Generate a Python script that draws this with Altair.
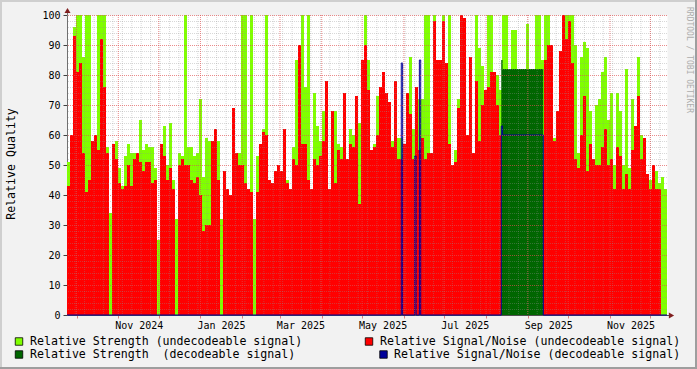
import altair as alt
import pandas as pd

FONT = "DejaVu Sans Mono"

# time base of the consolidated columns
START = pd.Timestamp("2024-09-23 22:00")
BIN = pd.Timedelta(minutes=3207)
NBINS = 200
END = START + NBINS * BIN

# Relative Strength (undecodeable signal)
strength_undecodeable = [
    51, 47, 96, 100, 100, 86, 100, 100, 58, 60,
    100, 100, 100, 56, 34, 42, 58, 49, 43, 53,
    57, 54, 54, 54, 65, 55, 57, 56, 56, 49,
    25, 57, 63, 50, 64, 45, 32, 54, 53, 100,
    56, 56, 53, 54, 72, 46, 59, 58, 34, 58,
    58, 32, 34, 34, 33, 59, 50, 54, 100, 100,
    35, 100, 32, 53, 53, 62, 100, 30, 30, 48,
    48, 32, 58, 45, 30, 56, 85, 56, 100, 76,
    100, 32, 74, 63, 58, 68, 54, 34, 68, 68,
    57, 56, 56, 51, 62, 60, 73, 64, 82, 100,
    85, 50, 57, 73, 57, 48, 53, 50, 58, 58,
    59, 59, 53, 56, 86, 62, 62, 72, 72, 100,
    100, 44, 100, 63, 60, 100, 72, 100, 48, 55,
    72, 100, 90, 55, 48, 54, 100, 89, 83, 41,
    100, 100, 73, 80, 75, 100, 100, 82, 95, 95,
    82, 82, 82, 97, 82, 82, 100, 100, 85, 100,
    100, 77, 59, 61, 72, 98, 100, 100, 100, 90,
    54, 86, 91, 89, 68, 42, 70, 72, 81, 86,
    65, 74, 50, 74, 68, 50, 82, 49, 72, 55,
    86, 60, 49, 47, 45, 49, 48, 44, 46, 42,
]

# Relative Signal/Noise (undecodeable signal)
snr_undecodeable = [
    43, 60, 93, 81, 84, 54, 41, 45, 58, 60,
    55, 92, 76, 54, 0, 57, 52, 44, 42, 43,
    50, 43, 52, 54, 51, 48, 51, 51, 44, 45,
    0, 57, 53, 45, 49, 42, 0, 50, 52, 50,
    50, 45, 44, 46, 40, 28, 30, 30, 58, 62,
    45, 0, 48, 42, 40, 69, 54, 50, 50, 44,
    42, 41, 0, 41, 57, 61, 60, 45, 44, 48,
    50, 48, 62, 44, 42, 52, 50, 90, 57, 57,
    45, 42, 52, 50, 53, 58, 78, 42, 68, 44,
    55, 52, 74, 52, 57, 56, 73, 37, 85, 90,
    75, 55, 56, 60, 76, 81, 74, 71, 56, 78,
    52, 52, 57, 74, 67, 52, 76, 55, 59, 52,
    54, 54, 98, 85, 85, 98, 84, 57, 50, 51,
    69, 100, 99, 60, 86, 54, 78, 58, 70, 75,
    76, 81, 81, 70, 60, 0, 0, 0, 0, 0,
    0, 0, 0, 0, 0, 0, 0, 0, 48, 85,
    90, 90, 58, 68, 88, 100, 92, 98, 84, 52,
    49, 60, 73, 48, 57, 52, 50, 50, 56, 62,
    50, 52, 42, 56, 53, 42, 47, 42, 55, 63,
    73, 52, 59, 47, 42, 50, 42, 42, 0, 0,
]

# Relative Strength (decodeable signal): change points
strength_dec_times = ["2025-08-12 07:00", "2025-08-13 07:00", "2025-09-12 12:00"]
strength_dec_values = [85, 82, 0]

# Relative Signal/Noise (decodeable signal): change points
snr_dec_times = [
    "2024-09-23 22:00", "2025-05-30 02:00", "2025-05-31 02:00",
    "2025-06-09 02:00", "2025-06-10 02:00", "2025-06-12 12:00",
    "2025-06-13 12:00", "2025-08-12 07:00", "2025-08-13 07:00",
    "2025-09-12 12:00", "2025-12-13 08:00",
]
snr_dec_values = [0, 84, 0, 53, 0, 85, 0, 63, 60, 0, 0]


def iso(ts):
    return pd.Timestamp(ts).strftime("%Y-%m-%dT%H:%M:%S")


def dt(ts):
    ts = pd.Timestamp(ts)
    return alt.DateTime(year=ts.year, month=ts.month, date=ts.day,
                        hours=ts.hour, minutes=ts.minute)


main = pd.DataFrame({
    "t": [iso(START + i * BIN) for i in range(NBINS + 1)],
    "strength": strength_undecodeable + [strength_undecodeable[-1]],
    "snr": snr_undecodeable + [snr_undecodeable[-1]],
})
dg = pd.DataFrame({"t": [iso(t) for t in strength_dec_times], "v": strength_dec_values})
bl = pd.DataFrame({"t": [iso(t) for t in snr_dec_times], "v": snr_dec_values})

month_starts = list(pd.date_range("2024-10-01", "2025-12-01", freq="MS"))
mondays = list(pd.date_range("2024-09-30", "2025-12-08", freq="W-MON"))
major_y = list(range(10, 101, 10))
minor_y = [v for v in range(2, 100, 2) if v % 10 != 0]

xscale = alt.Scale(domain=[dt(START), dt(END)], nice=False)
yscale = alt.Scale(domain=[0, 100], nice=False, zero=True)

xaxis = alt.Axis(
    values=[dt(m) for m in month_starts], grid=False, domain=True,
    domainColor="#505050", domainWidth=1, ticks=True, tickColor="#D98080",
    tickSize=3, labelPadding=2, labelOffset=20.5,
    labelExpr="month(datum.value) % 2 == 0 ? timeFormat(datum.value, '%b %Y') : ''",
    labelFont=FONT, labelFontSize=10, labelColor="#000000",
    labelOverlap=False, labelFlush=False, title=None,
)
yaxis = alt.Axis(
    values=list(range(0, 101, 10)), grid=False, domain=True,
    domainColor="#707070", domainWidth=1, ticks=True, tickColor="#404040",
    tickSize=4, labelPadding=3, labelFont=FONT, labelFontSize=10,
    labelColor="#000000", title=None,
)


def X(field):
    return alt.X(field, type="temporal", scale=xscale, axis=xaxis, title=None)


def Y(field):
    return alt.Y(field, type="quantitative", scale=yscale, axis=yaxis, title=None)


lime = alt.Chart(main).mark_area(interpolate="step-after", color="#80FF00").encode(
    x=X("t"), y=Y("strength"))
red = alt.Chart(main).mark_area(interpolate="step-after", color="#FF0000").encode(
    x=X("t"), y=Y("snr"))
dgreen = alt.Chart(dg).mark_area(interpolate="step-after", color="#006600").encode(
    x=X("t"), y=Y("v"))
blue = alt.Chart(bl).mark_line(interpolate="step-after", color="#000099", strokeWidth=1).encode(
    x=X("t"), y=Y("v"))

grid_minor_y = alt.Chart(pd.DataFrame({"v": minor_y})).mark_rule(
    color="#8F8F8F", opacity=0.35, strokeDash=[1, 1], yOffset=0.5
).encode(y=Y("v"))
grid_minor_x = alt.Chart(pd.DataFrame({"t": [iso(m) for m in mondays]})).mark_rule(
    color="#8F8F8F", opacity=0.35, strokeDash=[1, 1]
).encode(x=X("t"))
grid_major_y = alt.Chart(pd.DataFrame({"v": major_y})).mark_rule(
    color="#DE4F4F", opacity=0.65, strokeDash=[1, 1], yOffset=0.5
).encode(y=Y("v"))
grid_major_x = alt.Chart(pd.DataFrame({"t": [iso(m) for m in month_starts]})).mark_rule(
    color="#DE4F4F", opacity=0.65, strokeDash=[1, 1]
).encode(x=X("t"))

one = pd.DataFrame({"k": [0]})


def rule(x, x2, y, y2, color, w=1):
    return alt.Chart(one).mark_rule(color=color, strokeWidth=w).encode(
        x=alt.value(x), x2=alt.value(x2), y=alt.value(y), y2=alt.value(y2))


def text(s, x, y, size, color="#000000", angle=None, align="left"):
    kw = dict(font=FONT, fontSize=size, color=color, align=align, baseline="middle")
    if angle is not None:
        kw["angle"] = angle
    return alt.Chart(one).mark_text(**kw).encode(
        x=alt.value(x), y=alt.value(y), text=alt.value(s))


def square(x, y, color):
    return alt.Chart(one).mark_square(size=56, color=color, opacity=1,
                                      stroke="#000000", strokeWidth=0.8).encode(
        x=alt.value(x), y=alt.value(y))


extras = [
    # frame shading
    rule(-67, 630, -14, -14, "#CFCFCF", 2),
    rule(-66, -66, -15, 354, "#CFCFCF", 2),
    rule(-67, 630, 353, 353, "#9E9E9E", 2),
    rule(629, 629, -15, 354, "#9E9E9E", 2),
    # axis extensions and arrows
    rule(0.5, 0.5, -5, 0, "#707070"),
    rule(600, 604, 300.5, 300.5, "#505050"),
    alt.Chart(one).mark_point(shape="triangle-up", filled=True, size=36,
                              color="#801F1F", opacity=1).encode(
        x=alt.value(0.5), y=alt.value(-4.5)),
    alt.Chart(one).mark_point(shape="triangle-right", filled=True, size=36,
                              color="#801F1F", opacity=1).encode(
        x=alt.value(604.5), y=alt.value(300.5)),
    # titles
    text("Relative Quality", -55, 149, 11.6, angle=270, align="center"),
    text("RRDTOOL / TOBI OETIKER", 621.5, 45, 8.0, color="#ADADAD", angle=90, align="center"),
    # legend
    square(-48, 326.5, "#80FF00"),
    text("Relative Strength (undecodeable signal)", -37, 326.5, 11.6),
    square(302, 326.5, "#FF0000"),
    text("Relative Signal/Noise (undecodeable signal)", 313, 326.5, 11.6),
    square(-48, 339.5, "#006600"),
    text("Relative Strength \u00a0(decodeable signal)", -37, 339.5, 11.6),
    square(316.5, 339.5, "#000099"),
    text("Relative Signal/Noise (decodeable signal)", 327, 339.5, 11.6),
]

chart = alt.layer(
    lime, red, dgreen, blue,
    grid_minor_y, grid_minor_x, grid_major_y, grid_major_x,
    *extras,
).properties(
    width=600, height=300,
    padding={"left": 67, "top": 15, "right": 30, "bottom": 54},
    autosize=alt.AutoSizeParams(type="none"),
    background="#F2F2F2",
).configure_view(fill="white", stroke="transparent")

chart.save("out.html", embed_options={"renderer": "svg", "actions": False})
